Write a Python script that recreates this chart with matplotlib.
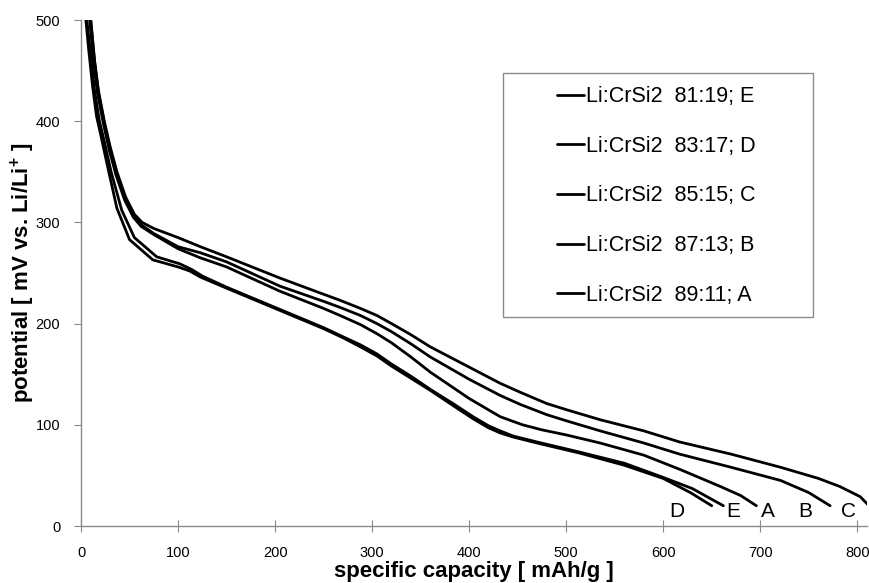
import matplotlib
matplotlib.use("Agg")
import matplotlib.pyplot as plt
from matplotlib.patches import Rectangle

plt.rcParams['font.family'] = ['Liberation Sans', 'DejaVu Sans']
plt.rcParams['mathtext.fontset'] = 'custom'
plt.rcParams['mathtext.rm'] = 'Liberation Sans:bold'
plt.rcParams['mathtext.bf'] = 'Liberation Sans:bold'

# ---- data (specific capacity mAh/g, potential mV) ----
labels = ["Li:CrSi2  81:19; E", "Li:CrSi2  83:17; D", "Li:CrSi2  85:15; C",
          "Li:CrSi2  87:13; B", "Li:CrSi2  89:11; A"]
end_letters = ["D", "E", "A", "B", "C"]
end_letter_x = [614, 672, 708, 746, 791]

E_x = [6, 10, 14, 19, 24, 31, 42, 55, 78, 102, 115, 125, 150, 205, 250, 270, 288, 305, 320, 340, 360, 385, 404, 420, 432, 445, 470, 514, 560, 600, 630, 662]
E_y = [500, 465, 430, 400, 380, 350, 312, 285, 266, 259, 253, 247, 236, 214, 196, 187, 179, 170, 160, 148, 135, 120, 108, 99, 94, 89, 83, 73, 62, 48, 37, 20]

D_x = [5, 8, 12, 16, 20, 27, 37, 50, 74, 100, 112, 123, 150, 205, 250, 270, 288, 305, 320, 340, 360, 385, 404, 420, 432, 445, 470, 514, 560, 600, 628, 650]
D_y = [500, 470, 434, 405, 388, 357, 314, 283, 263, 256, 252, 246, 235, 213, 195, 186, 177, 168, 158, 146, 134, 118, 106, 97, 92, 88, 82, 72, 60, 47, 33, 20]

C_x = [10, 14, 18, 24, 30, 37, 46, 55, 63, 75, 100, 123, 150, 205, 250, 267, 288, 305, 320, 340, 360, 400, 432, 453, 480, 500, 535, 580, 617, 670, 721, 760, 782, 803, 812]
C_y = [500, 460, 430, 400, 375, 350, 325, 308, 300, 294, 285, 276, 266, 245, 229, 223, 215, 208, 200, 189, 177, 157, 141, 132, 121, 115, 105, 94, 83, 71, 58, 47, 39, 29, 20]

B_x = [10, 14, 18, 24, 30, 37, 46, 55, 63, 75, 100, 123, 150, 205, 250, 267, 288, 305, 320, 340, 360, 400, 432, 453, 480, 500, 535, 580, 617, 670, 721, 750, 772]
B_y = [500, 458, 428, 398, 372, 347, 322, 305, 297, 289, 276, 270, 261, 237, 222, 216, 208, 200, 192, 180, 167, 145, 129, 120, 110, 104, 94, 82, 71, 58, 45, 33, 20]

A_x = [9, 13, 17, 23, 29, 36, 45, 54, 62, 75, 100, 123, 150, 205, 250, 267, 288, 305, 320, 340, 360, 400, 432, 455, 475, 500, 535, 580, 617, 659, 680, 696]
A_y = [500, 458, 428, 398, 372, 347, 322, 305, 296, 288, 274, 265, 256, 232, 215, 208, 199, 190, 181, 167, 152, 126, 108, 100, 95, 90, 82, 70, 56, 39, 30, 20]

series_x = [E_x, D_x, C_x, B_x, A_x]
series_y = [E_y, D_y, C_y, B_y, A_y]

x_ticks = [0, 100, 200, 300, 400, 500, 600, 700, 800]
y_ticks = [0, 100, 200, 300, 400, 500]

fig = plt.figure(figsize=(8.7, 5.83), dpi=100)
ax = fig.add_axes([81/870, 1-526/583, 786/870, 506/583])

handles = []
for xs, ys, lab in zip(series_x, series_y, labels):
    h, = ax.plot(xs, ys, color='black', lw=2.0, solid_joinstyle='round',
                 solid_capstyle='round', label=lab)
    handles.append(h)

ax.set_xlim(0, 810)
ax.set_ylim(0, 500)
ax.set_xticks(x_ticks)
ax.set_yticks(y_ticks)
for s in ['top', 'right']:
    ax.spines[s].set_visible(False)
for s in ['left', 'bottom']:
    ax.spines[s].set_color('#8a8a8a')
    ax.spines[s].set_linewidth(1.0)
ax.tick_params(axis='x', direction='inout', length=9, color='#8a8a8a', labelsize=10.5, pad=10)
ax.tick_params(axis='y', direction='out', length=5, color='#8a8a8a', labelsize=10.5, pad=10)

ax.set_xlabel("specific capacity [ mAh/g ]", fontsize=16, fontweight='bold',
              va='bottom')
ax.xaxis.set_label_coords(0.5, -(582-526)/506)
ax.set_ylabel(r"potential [ mV vs. Li/Li$^{+}$ ]", fontsize=16, fontweight='bold')
ax.yaxis.set_label_coords(-(81-37)/786, 0.5)

for letter, lx in zip(end_letters, end_letter_x):
    ax.text(lx, 9, letter, fontsize=15, ha='center', va='baseline')

# legend box
rect = Rectangle((503/870, 1-317/583), 310/870, 244/583, transform=fig.transFigure,
                 facecolor='white', edgecolor='#8a8a8a', lw=1.0, zorder=5)
fig.patches.append(rect)
leg = fig.legend(handles=handles, loc='center', bbox_to_anchor=(656/870, 1-196/583),
                 frameon=False, fontsize=15.5, handlelength=1.25, handletextpad=0.1,
                 labelspacing=1.33)
leg.set_zorder(6)

fig.savefig("out.png", dpi=100)
